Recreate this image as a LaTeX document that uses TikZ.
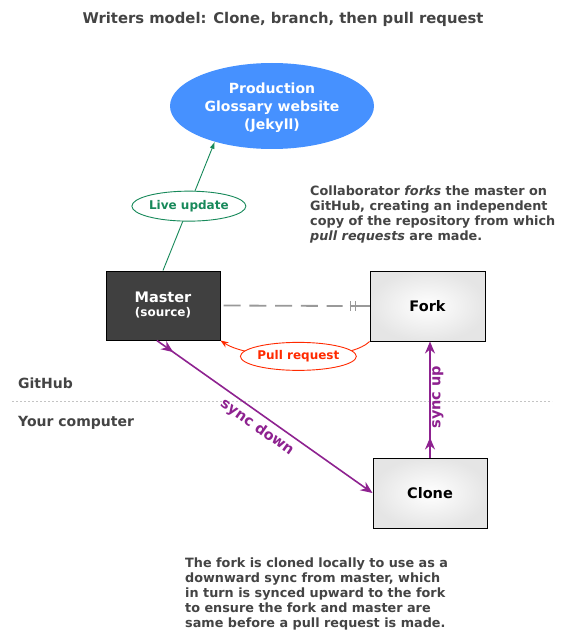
\documentclass[tikz,border=0pt]{standalone}
\usepackage{fontspec}
\setmainfont{DejaVu Sans}
\usetikzlibrary{shapes.geometric,arrows.meta,decorations.markings,calc}
\definecolor{txt}{HTML}{444444}
\definecolor{prodblue}{HTML}{4691FF}
\definecolor{livegreen}{HTML}{17895A}
\definecolor{prred}{HTML}{FF2A00}
\definecolor{syncpurple}{HTML}{8E2290}
\definecolor{dashgray}{HTML}{999999}
\definecolor{dotgray}{HTML}{C4C4C4}
\definecolor{mastergray}{HTML}{404040}
\tikzset{
  box/.style={draw=black, line width=1pt, minimum width=114, minimum height=69, inner sep=0pt, align=center},
  lightbox/.style={box, inner color=white, outer color=black!10, text=black, font=\fontsize{14.5}{17}\selectfont\bfseries},
  pill/.style={ellipse, draw, fill=white, inner sep=0pt, line width=0.9pt, font=\fontsize{12}{14}\selectfont\bfseries},
  para/.style={text=txt, font=\fontsize{12.8}{15}\selectfont\bfseries, align=left, anchor=north west, inner sep=0pt},
  side/.style={text=txt, font=\fontsize{14}{16}\selectfont\bfseries, anchor=base west, inner sep=0pt},
  synctip/.tip={Stealth[length=12pt,width=10pt,inset=4pt]},
  syncline/.style={draw=syncpurple, line width=1.6pt, -{synctip},
    postaction={decorate},
    decoration={markings, mark=at position 20pt with {\arrow{synctip}}}},
  synclabel/.style={text=syncpurple, font=\fontsize{14.5}{16}\selectfont\bfseries, sloped}
}
\begin{document}
\begin{tikzpicture}[x=1pt,y=-1pt]
\useasboundingbox (0,0) rectangle (566,639);
\fill[white] (0,0) rectangle (566,639);

% title
\node[text=txt, font=\fontsize{14.8}{17}\selectfont\bfseries, anchor=base, inner sep=0pt] (title) at (283,24) {Writers model: Clone, branch, then pull request};

% production website
\node[ellipse, fill=prodblue, minimum width=204, minimum height=86, inner sep=0pt, text=white, align=center, font=\fontsize{14}{18}\selectfont\bfseries] (prod) at (272,106) {\rule{0pt}{14.5pt}Production\\Glossary website\\(Jekyll)};

% boxes
\node[box, fill=mastergray, text=white] (master) at (163,305.5) {{\fontsize{14.5}{17}\selectfont\bfseries Master}\\[2pt]{\fontsize{12}{14}\selectfont\bfseries (source)}};
\node[lightbox, minimum width=115, minimum height=70] (fork) at (427.5,306) {Fork};
\node[lightbox, minimum height=70] (clone) at (430,493) {Clone};

% descriptive texts
\node[para] (ptop) at (310,186) {Collaborator \textit{forks} the master on\\GitHub, creating an independent\\copy of the repository from which\\\textit{pull requests} are made.};
\node[para] (pbot) at (185,558) {The fork is cloned locally to use as a\\downward sync from master, which\\in turn is synced upward to the fork\\to ensure the fork and master are\\same before a pull request is made.};

% divider
\draw[dotgray, line width=0.7pt, dash pattern=on 2pt off 2pt] (12,401) -- (552,401);
\node[side] (github) at (18,388) {GitHub};
\node[side] (local) at (18,426) {Your computer};

% live update
\draw[livegreen, line width=0.9pt, -{Latex[length=7pt,width=5pt]}] (master.north) -- node[pill, draw=livegreen, text=livegreen, minimum width=114, minimum height=30] (live) {Live update} (prod.212);

% master -- fork relation
\coordinate (dashend) at ($(fork.west)+(-27,0)$);
\coordinate (barA) at ($(fork.west)+(-19,0)$);
\coordinate (barB) at ($(fork.west)+(-14,0)$);
\draw[dashgray, line width=1.8pt, dash pattern=on 17pt off 8.75pt] ($(master.east)+(3,0)$) -- (dashend);
\draw[dashgray, line width=1.8pt] ($(fork.west)+(-20,0)$) -- (fork.west);
\draw[dashgray, line width=1.8pt] ($(barA)+(0,-5)$) -- ($(barA)+(0,5)$);
\draw[dashgray, line width=1.8pt] ($(barB)+(0,-5)$) -- ($(barB)+(0,5)$);

% pull request
\draw[prred, line width=0.9pt, -{Stealth[length=8pt,width=6pt]}] (fork.south west) .. controls ($(fork.south west)+(-21,21)$) and ($(master.south east)+(30,20)$) .. node[pill, draw=prred, text=prred, minimum width=112, minimum height=28] (pr) {Pull request} (master.south east);

% sync lines
\draw[syncline] (master.260) -- node[synclabel, below=2pt] (sd) {sync down} (clone.west);
\draw[syncline] (clone.north) -- node[synclabel, pos=0.52, below=0pt, inner sep=1.5pt] (su) {sync up} (clone.north |- fork.south);
\end{tikzpicture}
\end{document}
